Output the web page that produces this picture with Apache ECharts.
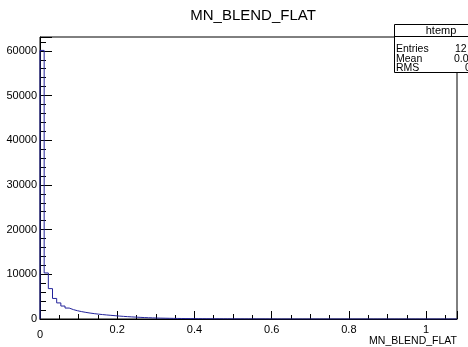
<!DOCTYPE html>
<html><head><meta charset="utf-8">
<script src="https://cdn.jsdelivr.net/npm/echarts@6/dist/echarts.min.js"></script>
<style>html,body{margin:0;padding:0;background:#fff}#c{width:468px;height:347px}</style>
</head><body><div id="c"></div>
<script>
// Histogram MN_BLEND_FLAT: 100 bins from 0 to 1.08
var binLow = 0;
var binHigh = 1.08;
var binCounts = [60100, 10300, 6800, 4600, 3600, 2900, 2450, 2100, 1850, 1650,
  1480, 1330, 1200, 1090, 990, 900, 820, 740, 660, 590,
  530, 470, 420, 370, 325, 285, 250, 220, 195, 175,
  155, 140, 125, 112, 100, 90, 80, 72, 65, 58,
  52, 47, 42, 38, 34, 31, 28, 25, 22, 20,
  18, 16, 14, 12, 10, 8, 0, 0, 0, 0,
  0, 0, 0, 0, 0, 0, 0, 0, 0, 0,
  0, 0, 0, 0, 0, 0, 0, 0, 0, 0,
  0, 0, 0, 0, 0, 0, 0, 0, 0, 0,
  0, 0, 0, 0, 0, 0, 0, 0, 0, 0];
var yTicks = [0, 10000, 20000, 30000, 40000, 50000, 60000];
var xTicks = [0, 0.2, 0.4, 0.6, 0.8, 1];
var titleText = 'MN_BLEND_FLAT';
var xTitle = 'MN_BLEND_FLAT';
var statsName = 'htemp';
var statsLabels = ['Entries', 'Mean', 'RMS'];
var statsValues = ['12', '0.07', '0'];

var nb = binCounts.length;
var w = (binHigh - binLow) / nb;
var pts = [[binLow, 0]];
for (var i = 0; i < nb; i++) pts.push([+(binLow + i * w).toFixed(6), binCounts[i]]);
pts.push([binHigh, 0]);

var F = 'Liberation Sans, Arial, Helvetica, sans-serif';
function near(v, arr){ for (var k=0;k<arr.length;k++) if (Math.abs(v-arr[k])<1e-6) return true; return false; }

var chart = echarts.init(document.getElementById('c'), null, {renderer:'canvas'});
var hid = {show:false};
chart.setOption({
  animation:false,
  title:{text:titleText, left:248, top:3, textAlign:'center',
    textStyle:{fontFamily:F, fontSize:15, fontWeight:'normal', color:'#000'}},
  grid:{left:40, right:11, top:37, bottom:27, show:true, borderColor:'#000', borderWidth:1, backgroundColor:'transparent'},
  xAxis:[
    {type:'value', position:'bottom', min:binLow, max:binHigh, interval:0.2, gridIndex:0,
     axisLine:{show:true, lineStyle:{color:'#000', width:1}},
     axisTick:{show:true, inside:true, length:8, lineStyle:{color:'#000'}},
     splitLine:hid,
     axisLabel:{show:true, margin:5, fontFamily:F, fontSize:11, color:'#000',
       formatter:function(v){ if(!near(v,xTicks)) return ''; return v===0 ? '{z|0}' : String(+v.toFixed(1)); },
       rich:{z:{fontFamily:F, fontSize:11, color:'#000', padding:[5,0,0,0]}}},
     name:xTitle, nameLocation:'end', nameGap:0,
     nameTextStyle:{fontFamily:F, fontSize:10.5, color:'#000', align:'right', verticalAlign:'top', padding:[17,0,0,0]}},
    {type:'value', position:'bottom', min:binLow, max:binHigh, interval:0.1, gridIndex:0,
     axisLine:hid, axisLabel:hid, splitLine:hid,
     axisTick:{show:true, inside:true, length:5, lineStyle:{color:'#000'}}},
    {type:'value', position:'bottom', min:binLow, max:binHigh, interval:0.05, gridIndex:0,
     axisLine:hid, axisLabel:hid, splitLine:hid,
     axisTick:{show:true, inside:true, length:4, lineStyle:{color:'#000'}}}
  ],
  yAxis:[
    {type:'value', position:'left', min:0, max:63100, interval:10000,
     axisLine:{show:true, lineStyle:{color:'#000', width:1}},
     axisTick:{show:true, inside:true, length:12, lineStyle:{color:'#000'}},
     splitLine:hid,
     axisLabel:{show:true, margin:3, fontFamily:F, fontSize:11, color:'#000',
       formatter:function(v){ return near(v,yTicks) ? String(v) : ''; }}},
    {type:'value', position:'left', min:0, max:63100, interval:2000,
     axisLine:hid, axisLabel:hid, splitLine:hid,
     axisTick:{show:true, inside:true, length:6, lineStyle:{color:'#000'}}}
  ],
  series:[{type:'line', xAxisIndex:0, yAxisIndex:0, step:'end', data:pts, symbol:'none',
    lineStyle:{color:'#23239b', width:1}, z:5}],
  graphic:[
    {type:'rect', shape:{x:394.5, y:24.5, width:100, height:48}, style:{fill:'#fff', stroke:'#000', lineWidth:1}, z:100},
    {type:'line', shape:{x1:394.5, y1:36.5, x2:468, y2:36.5}, style:{stroke:'#000', lineWidth:1}, z:101},
    {type:'text', x:441, y:31, style:{text:statsName, fontFamily:F, fontSize:11, fill:'#000', align:'center', verticalAlign:'middle'}, z:102},
    {type:'text', x:396, y:49, style:{text:statsLabels[0], fontFamily:F, fontSize:10.5, fill:'#000', verticalAlign:'middle'}, z:102},
    {type:'text', x:396, y:59, style:{text:statsLabels[1], fontFamily:F, fontSize:10.5, fill:'#000', verticalAlign:'middle'}, z:102},
    {type:'text', x:396, y:68.5, style:{text:statsLabels[2], fontFamily:F, fontSize:10.5, fill:'#000', verticalAlign:'middle'}, z:102},
    {type:'text', x:455, y:49, style:{text:statsValues[0], fontFamily:F, fontSize:10.5, fill:'#000', verticalAlign:'middle'}, z:102},
    {type:'text', x:454, y:59, style:{text:statsValues[1], fontFamily:F, fontSize:10.5, fill:'#000', verticalAlign:'middle'}, z:102},
    {type:'text', x:465, y:68.5, style:{text:statsValues[2], fontFamily:F, fontSize:10.5, fill:'#000', verticalAlign:'middle'}, z:102}
  ]
});
</script></body></html>
